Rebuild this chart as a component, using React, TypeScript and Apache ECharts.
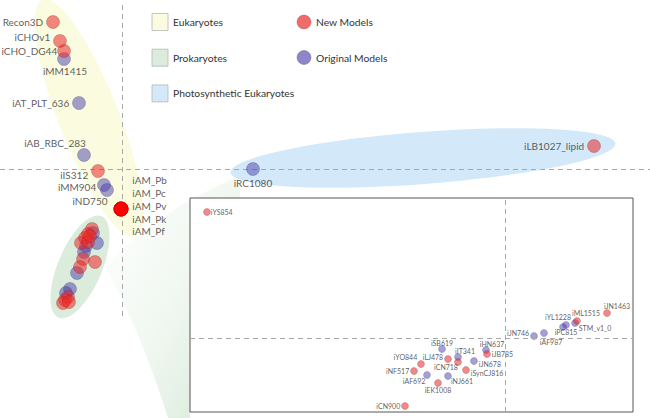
import React, { useEffect, useRef } from "react";
import * as echarts from "echarts";

// ---- Main panel (PC scores) ----
const mainNewNames = ["Recon3D", "iCHOv1", "iCHO_DG44", "iIS312", "iLB1027_lipid"];
const mainNewX = [-6.9, -6.2, -5.8, -2.4, 47.2];
const mainNewY = [14.7, 12.8, 11.8, -0.2, 2.3];

const mainOrigNames = ["iMM1415", "iAT_PLT_636", "iAB_RBC_283", "iMM904", "iND750", "iRC1080"];
const mainOrigX = [-5.8, -4.3, -3.8, -1.8, -1.5, 13.1];
const mainOrigY = [11.0, 6.6, 1.4, -1.6, -2.1, 0.0];

const amNames = ["iAM_Pb", "iAM_Pc", "iAM_Pv", "iAM_Pk", "iAM_Pf"];
const amX = [-0.1, -0.1, -0.1, -0.1, -0.1];
const amY = [-4.0, -4.0, -4.0, -4.0, -4.0];

// Prokaryote cluster (unlabelled)
const clusterNewX = [-3.0, -3.4, -3.7, -4.1, -3.4, -3.2, -3.9, -2.7, -4.2, -5.4, -5.7, -5.9, -5.3];
const clusterNewY = [-6.0, -6.5, -6.9, -7.4, -7.3, -6.7, -9.0, -9.3, -9.8, -12.8, -13.1, -13.4, -13.3];
const clusterOrigX = [-2.9, -2.5, -3.6, -3.8, -4.5, -5.2, -5.6];
const clusterOrigY = [-6.4, -7.4, -7.7, -8.3, -10.4, -12.0, -12.4];

// ---- Inset panel ----
const insetNewNames = ["iYS854", "iJN1463", "iML1515", "iJB785", "iLJ478", "iCN718", "iYO844", "iSynCJ816", "iNF517", "iEK1008", "iCN900"];
const insetNewX = [-29.8, 10.2, 7.2, -1.8, -5.7, -4.7, -8.4, -3.9, -9.1, -6.7, -10.0];
const insetNewY = [12.6, 2.5, 1.7, -1.6, -2.1, -2.4, -2.6, -3.2, -3.3, -4.5, -6.8];

const insetOrigNames = ["STM_v1_0", "iYL1228", "iPC815", "iAF987", "iJN746", "iSB619", "iHN637", "iIT341", "iJN678", "iAF692", "iNJ661"];
const insetOrigX = [7.0, 6.1, 5.8, 3.9, 2.9, -6.3, -1.9, -4.7, -3.1, -7.8, -5.7];
const insetOrigY = [1.5, 1.3, 1.1, 0.5, 0.2, -1.1, -1.2, -1.9, -2.3, -3.7, -3.8];

const legendRegions = ["Eukaryotes", "Prokaryotes", "Photosynthetic Eukaryotes"];
const legendModels = ["New Models", "Original Models"];

// label placement (style config)
const place: Record<string, [string, number, number]> = {
  Recon3D: ["left", 0, 0],
  iCHOv1: ["left", 0, -4],
  iCHO_DG44: ["left", 3, 0],
  iIS312: ["left", 0, 4],
  iLB1027_lipid: ["left", 0, 0],
  iMM1415: ["bottom", 1, -3],
  iAT_PLT_636: ["left", 0, 0],
  iAB_RBC_283: ["top", -29, 3],
  iMM904: ["left", 2, 2],
  iND750: ["bottom", -17, -4],
  iRC1080: ["bottom", 0, -1],
  iAM_Pb: ["right", 1, -29],
  iAM_Pc: ["right", 1, -16],
  iAM_Pv: ["right", 1, -3],
  iAM_Pk: ["right", 1, 10],
  iAM_Pf: ["right", 1, 22],
  iYS854: ["right", -2, 0],
  iJN1463: ["top", 10, 2],
  iML1515: ["top", 9, 1],
  STM_v1_0: ["right", -2, 5],
  iYL1228: ["top", -8, 1],
  iPC815: ["bottom", 3, -4],
  iAF987: ["bottom", 7, 0],
  iJN746: ["left", 1, -3],
  iSB619: ["top", 0, 3],
  iHN637: ["top", 6, 3],
  iJB785: ["right", -1, 0],
  iIT341: ["top", 7, 3],
  iLJ478: ["left", 1, -2],
  iYO844: ["left", 2, -7],
  iCN718: ["bottom", -12, -4],
  iJN678: ["right", -1, 3],
  iSynCJ816: ["right", -1, 3],
  iNF517: ["left", 1, 0],
  iAF692: ["bottom", -13, -3],
  iNJ661: ["bottom", 14, -4],
  iEK1008: ["bottom", 0, -2],
  iCN900: ["left", 1, 0],
};

const RED = "rgba(235,40,40,0.69)";
const PURPLE = "rgba(70,60,170,0.62)";
const FONT = "Lato";
const MAIN_FS = 10;

function labelled(names: string[], xs: number[], ys: number[], fontSize: number) {
  return names.map((n, i) => {
    const p = place[n] || ["right", 0, 0];
    return {
      name: n,
      value: [xs[i], ys[i]],
      label: {
        show: true,
        formatter: n,
        position: p[0],
        offset: [p[1], p[2]],
        distance: fontSize > 8 ? 3 : 2,
        color: "#333",
        fontFamily: FONT,
        fontSize,
      },
    };
  });
}

function pts(xs: number[], ys: number[]) {
  return xs.map((x, i) => [x, ys[i]]);
}

const dashed = { color: "#a8a8a8", type: [5, 4] as any, width: 1 };

export default function App() {
  const ref = useRef<HTMLDivElement>(null);
  useEffect(() => {
    if (!ref.current) return;
    const wedgePath =
      "M 105 268 C 130 240 170 205 240 176 L 240 198 L 190 198 L 190 418 L 168 418 C 150 360 125 300 105 268 Z";
    echarts.graphic.registerShape("wedge", echarts.graphic.extendPath(wedgePath, {}) as any);

    const chart = echarts.init(ref.current, null, { renderer: "svg" });
    const itemRed = { color: RED, borderColor: "rgba(120,40,40,0.55)", borderWidth: 0.6 };
    const itemPurple = { color: PURPLE, borderColor: "rgba(60,50,120,0.55)", borderWidth: 0.6 };

    const graphic: any[] = [
      {
        type: "wedge",
        z: 0,
        silent: true,
        style: {
          fill: new echarts.graphic.LinearGradient(0, 0, 1, 1, [
            { offset: 0, color: "rgba(225,238,225,0.0)" },
            { offset: 0.5, color: "rgba(220,236,221,0.4)" },
            { offset: 1, color: "rgba(208,230,210,0.95)" },
          ]),
        },
      },
      {
        type: "ellipse",
        x: 89,
        y: 118,
        rotation: (21.4 * Math.PI) / 180,
        shape: { cx: 0, cy: 0, rx: 30, ry: 127 },
        style: { fill: "#fbfbe0" },
        z: 1,
        silent: true,
      },
      {
        type: "ellipse",
        x: 80,
        y: 267,
        rotation: (-23 * Math.PI) / 180,
        shape: { cx: 0, cy: 0, rx: 22, ry: 55 },
        style: { fill: "#dcecdc" },
        z: 1,
        silent: true,
      },
      {
        type: "ellipse",
        x: 423,
        y: 158,
        rotation: (4.3 * Math.PI) / 180,
        shape: { cx: 0, cy: 0, rx: 193, ry: 26 },
        style: { fill: "#d3e9f9" },
        z: 1,
        silent: true,
      },
    ];
    const swatch = ["#fbfbe0", "#dcecdc", "#d3e9f9"];
    legendRegions.forEach((t, i) => {
      const cy = 22 + i * 35.7;
      graphic.push({
        type: "rect",
        shape: { x: 152, y: cy - 8.5, width: 16, height: 17 },
        style: { fill: swatch[i], stroke: "#b8b8b8", lineWidth: 0.8 },
        z: 5,
      });
      graphic.push({
        type: "text",
        x: 173,
        y: cy,
        style: { text: t, fill: "#333", fontFamily: FONT, fontSize: 10.3, verticalAlign: "middle" },
        z: 5,
      });
    });
    const mc = [RED, PURPLE];
    legendModels.forEach((t, i) => {
      const cy = 22 + i * 35.5;
      graphic.push({
        type: "circle",
        shape: { cx: 304, cy, r: 7 },
        style: { fill: mc[i], stroke: "rgba(90,60,60,0.5)", lineWidth: 0.6 },
        z: 5,
      });
      graphic.push({
        type: "text",
        x: 316,
        y: cy,
        style: { text: t, fill: "#333", fontFamily: FONT, fontSize: 10.3, verticalAlign: "middle" },
        z: 5,
      });
    });

    chart.setOption({
      animation: false,
      backgroundColor: "#fff",
      grid: [
        { left: 0, top: 0, width: 650, height: 418, show: false },
        {
          left: 190,
          top: 198,
          width: 443,
          height: 214,
          show: true,
          borderColor: "#555",
          borderWidth: 1,
          backgroundColor: "#fff",
          z: 3,
        },
      ],
      xAxis: [
        { type: "value", gridIndex: 0, min: -12.2, max: 52.8, show: false },
        { type: "value", gridIndex: 1, min: -31.5, max: 12.8, show: false },
      ],
      yAxis: [
        { type: "value", gridIndex: 0, min: -24.9, max: 16.9, show: false },
        { type: "value", gridIndex: 1, min: -7.4, max: 14, show: false },
      ],
      graphic,
      series: [
        {
          type: "scatter",
          xAxisIndex: 0,
          yAxisIndex: 0,
          symbolSize: 13,
          itemStyle: itemPurple,
          data: pts(clusterOrigX, clusterOrigY),
          markLine: {
            silent: true,
            symbol: "none",
            z: 1,
            label: { show: false },
            lineStyle: dashed,
            data: [
              [{ coord: [0, 16.4] }, { coord: [0, -15.1] }],
              [{ coord: [-12.2, 0] }, { coord: [52.8, 0] }],
            ],
          },
        },
        {
          type: "scatter",
          xAxisIndex: 0,
          yAxisIndex: 0,
          symbolSize: 13,
          itemStyle: itemRed,
          data: pts(clusterNewX, clusterNewY),
        },
        {
          type: "scatter",
          xAxisIndex: 0,
          yAxisIndex: 0,
          symbolSize: 13,
          itemStyle: itemPurple,
          data: labelled(mainOrigNames, mainOrigX, mainOrigY, MAIN_FS),
        },
        {
          type: "scatter",
          xAxisIndex: 0,
          yAxisIndex: 0,
          symbolSize: 13,
          itemStyle: itemRed,
          data: labelled(mainNewNames, mainNewX, mainNewY, MAIN_FS),
        },
        {
          type: "scatter",
          xAxisIndex: 0,
          yAxisIndex: 0,
          symbolSize: 14,
          z: 3,
          itemStyle: { color: "#ff0000", borderColor: "#c00", borderWidth: 0.6 },
          data: labelled(amNames, amX, amY, MAIN_FS),
        },
        {
          type: "scatter",
          xAxisIndex: 1,
          yAxisIndex: 1,
          symbolSize: 7,
          z: 4,
          itemStyle: itemPurple,
          data: labelled(insetOrigNames, insetOrigX, insetOrigY, 7),
          markLine: {
            silent: true,
            symbol: "none",
            label: { show: false },
            lineStyle: dashed,
            data: [{ xAxis: 0 }, { yAxis: 0 }],
          },
        },
        {
          type: "scatter",
          xAxisIndex: 1,
          yAxisIndex: 1,
          symbolSize: 7,
          z: 4,
          itemStyle: itemRed,
          data: labelled(insetNewNames, insetNewX, insetNewY, 7),
        },
      ],
    });
    return () => chart.dispose();
  }, []);
  return (
    <div
      ref={ref}
      style={{ position: "fixed", left: 0, top: 0, width: 650, height: 418, background: "#fff" }}
    />
  );
}
